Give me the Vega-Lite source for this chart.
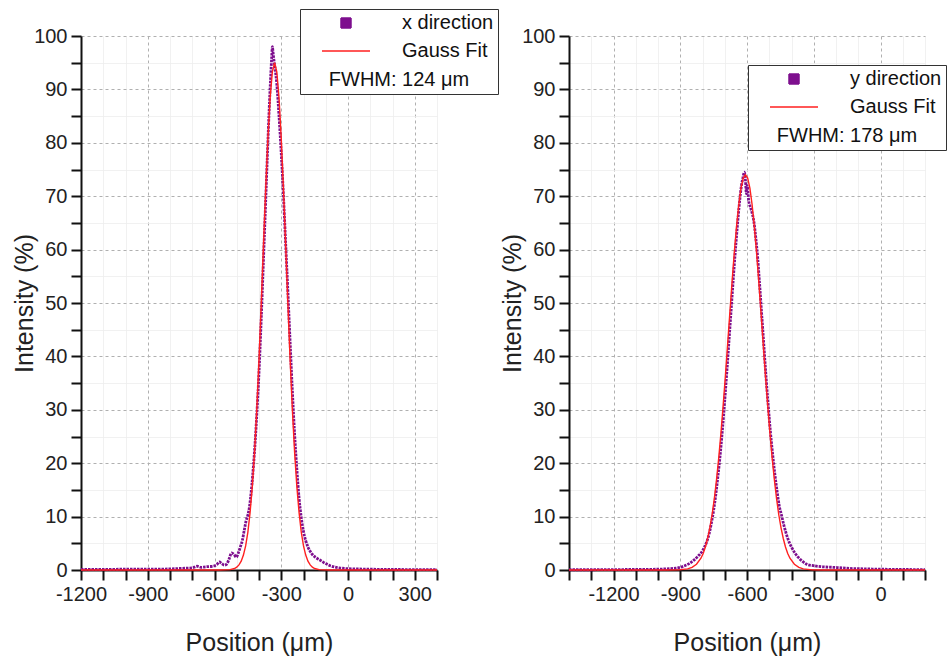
{
  "$schema": "https://vega.github.io/schema/vega-lite/v6.json",
  "background": "white",
  "padding": {"left": 12, "top": 8, "right": 0, "bottom": 5},
  "config": {
    "view": {"stroke": null},
    "font": "Liberation Sans",
    "axis": {
      "domainColor": "#111", "domainWidth": 2, "tickColor": "#111", "tickWidth": 2, "ticks": true, "tickSize": 10,
      "labelFont": "Liberation Sans", "labelFontSize": 20, "labelColor": "#222", "labelPadding": 4,
      "labelOverlap": false, "labelFlush": false,
      "titleFont": "Liberation Sans", "titleFontSize": 25, "titleFontWeight": "normal", "titleColor": "#222",
      "grid": true, "gridWidth": 1
    },
    "legend": {
      "titleOrient": "bottom", "titleAnchor": "middle", "titleFontSize": 20, "titleFontWeight": "normal",
      "titleFont": "Liberation Sans", "titleColor": "#111", "titlePadding": 9,
      "labelFont": "Liberation Sans", "labelFontSize": 20, "labelColor": "#111",
      "labelOffset": 46, "symbolOffset": 32, "symbolSize": 100, "symbolStrokeWidth": 1.5,
      "rowPadding": 8, "padding": 4, "strokeColor": "#333", "fillColor": "white", "cornerRadius": 0
    }
  },
  "datasets": {
    "xdir": [
      {"p": -1200, "v": 0.1}, {"p": -1100, "v": 0.1}, {"p": -1000, "v": 0.15}, {"p": -900, "v": 0.15},
      {"p": -800, "v": 0.2}, {"p": -750, "v": 0.3}, {"p": -700, "v": 0.4}, {"p": -678, "v": 0.7},
      {"p": -660, "v": 0.5}, {"p": -640, "v": 0.6}, {"p": -610, "v": 0.7}, {"p": -590, "v": 1.0},
      {"p": -578, "v": 1.5}, {"p": -567, "v": 1.2}, {"p": -556, "v": 0.9}, {"p": -545, "v": 1.1},
      {"p": -535, "v": 2.0}, {"p": -523, "v": 3.2}, {"p": -512, "v": 2.9}, {"p": -502, "v": 2.4},
      {"p": -492, "v": 3.3}, {"p": -484, "v": 4.3}, {"p": -475, "v": 5.5}, {"p": -466, "v": 7.5},
      {"p": -458, "v": 9.2}, {"p": -450, "v": 10.3}, {"p": -444, "v": 11.5}, {"p": -438, "v": 13.5},
      {"p": -432, "v": 16}, {"p": -425, "v": 19.5}, {"p": -418, "v": 23.5}, {"p": -410, "v": 29},
      {"p": -400, "v": 37}, {"p": -390, "v": 47}, {"p": -380, "v": 58}, {"p": -370, "v": 69},
      {"p": -362, "v": 78}, {"p": -355, "v": 85.5}, {"p": -348, "v": 92}, {"p": -343, "v": 96},
      {"p": -340, "v": 98}, {"p": -337, "v": 97}, {"p": -333, "v": 95.5}, {"p": -328, "v": 94},
      {"p": -320, "v": 91}, {"p": -310, "v": 85}, {"p": -300, "v": 78}, {"p": -290, "v": 70},
      {"p": -280, "v": 61}, {"p": -270, "v": 52}, {"p": -260, "v": 42.5}, {"p": -250, "v": 33.5},
      {"p": -240, "v": 25.5}, {"p": -230, "v": 19}, {"p": -220, "v": 13.5}, {"p": -210, "v": 9.8},
      {"p": -200, "v": 7.2}, {"p": -190, "v": 5.5}, {"p": -180, "v": 4.3}, {"p": -170, "v": 3.5},
      {"p": -160, "v": 2.9}, {"p": -150, "v": 2.5}, {"p": -140, "v": 2.2}, {"p": -120, "v": 1.7},
      {"p": -100, "v": 1.2}, {"p": -80, "v": 0.8}, {"p": -60, "v": 0.55}, {"p": -40, "v": 0.4},
      {"p": 0, "v": 0.25}, {"p": 100, "v": 0.15}, {"p": 200, "v": 0.1}, {"p": 300, "v": 0.08}, {"p": 400, "v": 0.05}
    ],
    "xfit": [
      {"p": -1200, "v": 0}, {"p": -580, "v": 0}, {"p": -530, "v": 0.07}, {"p": -510, "v": 0.28},
      {"p": -500, "v": 0.52}, {"p": -490, "v": 0.95}, {"p": -480, "v": 1.65}, {"p": -470, "v": 2.8},
      {"p": -460, "v": 4.5}, {"p": -450, "v": 7.1}, {"p": -440, "v": 10.8}, {"p": -430, "v": 15.7},
      {"p": -420, "v": 22.1}, {"p": -410, "v": 30.0}, {"p": -400, "v": 39.3}, {"p": -390, "v": 49.7},
      {"p": -380, "v": 60.6}, {"p": -370, "v": 71.2}, {"p": -360, "v": 80.8}, {"p": -350, "v": 88.4},
      {"p": -340, "v": 93.3}, {"p": -330, "v": 95}, {"p": -320, "v": 93.3}, {"p": -310, "v": 88.4},
      {"p": -300, "v": 80.8}, {"p": -290, "v": 71.2}, {"p": -280, "v": 60.6}, {"p": -270, "v": 49.7},
      {"p": -260, "v": 39.3}, {"p": -250, "v": 30.0}, {"p": -240, "v": 22.1}, {"p": -230, "v": 15.7},
      {"p": -220, "v": 10.8}, {"p": -210, "v": 7.1}, {"p": -200, "v": 4.5}, {"p": -190, "v": 2.8},
      {"p": -180, "v": 1.65}, {"p": -170, "v": 0.95}, {"p": -160, "v": 0.52}, {"p": -150, "v": 0.28},
      {"p": -130, "v": 0.07}, {"p": -80, "v": 0}, {"p": 400, "v": 0}
    ],
    "ydir": [
      {"p": -1400, "v": 0.05}, {"p": -1300, "v": 0.05}, {"p": -1200, "v": 0.08}, {"p": -1100, "v": 0.1},
      {"p": -1000, "v": 0.15}, {"p": -950, "v": 0.25}, {"p": -920, "v": 0.35}, {"p": -900, "v": 0.5},
      {"p": -880, "v": 0.8}, {"p": -860, "v": 1.2}, {"p": -840, "v": 1.8}, {"p": -820, "v": 2.6},
      {"p": -800, "v": 3.6}, {"p": -790, "v": 4.4}, {"p": -780, "v": 5.4}, {"p": -770, "v": 6.8},
      {"p": -760, "v": 8.8}, {"p": -750, "v": 11.2}, {"p": -740, "v": 14.2}, {"p": -730, "v": 17.8},
      {"p": -720, "v": 21.8}, {"p": -710, "v": 26.5}, {"p": -700, "v": 31.8}, {"p": -690, "v": 37.5},
      {"p": -680, "v": 43.5}, {"p": -670, "v": 49.5}, {"p": -660, "v": 55.5}, {"p": -650, "v": 61},
      {"p": -640, "v": 66}, {"p": -632, "v": 69.5}, {"p": -625, "v": 72}, {"p": -618, "v": 73.5},
      {"p": -612, "v": 74.5}, {"p": -607, "v": 73}, {"p": -603, "v": 70.5}, {"p": -600, "v": 72},
      {"p": -596, "v": 71}, {"p": -592, "v": 69}, {"p": -585, "v": 68}, {"p": -578, "v": 67},
      {"p": -570, "v": 65.5}, {"p": -560, "v": 62}, {"p": -552, "v": 58.5}, {"p": -545, "v": 54.5},
      {"p": -535, "v": 48.5}, {"p": -525, "v": 42.5}, {"p": -515, "v": 36.5}, {"p": -505, "v": 31},
      {"p": -495, "v": 26}, {"p": -485, "v": 21.8}, {"p": -475, "v": 18}, {"p": -465, "v": 14.8},
      {"p": -455, "v": 12}, {"p": -445, "v": 10.3}, {"p": -435, "v": 8.5}, {"p": -425, "v": 7},
      {"p": -415, "v": 5.7}, {"p": -400, "v": 4.3}, {"p": -385, "v": 3.2}, {"p": -370, "v": 2.4},
      {"p": -350, "v": 1.6}, {"p": -330, "v": 1.05}, {"p": -300, "v": 0.8}, {"p": -260, "v": 0.6},
      {"p": -213, "v": 0.5}, {"p": -170, "v": 0.4}, {"p": -140, "v": 0.3}, {"p": -100, "v": 0.25},
      {"p": 0, "v": 0.15}, {"p": 100, "v": 0.1}, {"p": 200, "v": 0.08}
    ],
    "yfit": [
      {"p": -1400, "v": 0}, {"p": -957, "v": 0}, {"p": -907, "v": 0.03}, {"p": -867, "v": 0.2},
      {"p": -847, "v": 0.48}, {"p": -827, "v": 1.07}, {"p": -807, "v": 2.2}, {"p": -797, "v": 3.1},
      {"p": -787, "v": 4.3}, {"p": -777, "v": 5.9}, {"p": -767, "v": 7.9}, {"p": -757, "v": 10.3},
      {"p": -747, "v": 13.3}, {"p": -737, "v": 16.9}, {"p": -727, "v": 21.0}, {"p": -717, "v": 25.7},
      {"p": -707, "v": 30.9}, {"p": -697, "v": 36.4}, {"p": -687, "v": 42.3}, {"p": -677, "v": 48.2},
      {"p": -667, "v": 54.0}, {"p": -657, "v": 59.5}, {"p": -647, "v": 64.3}, {"p": -637, "v": 68.4},
      {"p": -627, "v": 71.5}, {"p": -617, "v": 73.4}, {"p": -607, "v": 74}, {"p": -597, "v": 73.4},
      {"p": -587, "v": 71.5}, {"p": -577, "v": 68.4}, {"p": -567, "v": 64.3}, {"p": -557, "v": 59.5},
      {"p": -547, "v": 54.0}, {"p": -537, "v": 48.2}, {"p": -527, "v": 42.3}, {"p": -517, "v": 36.4},
      {"p": -507, "v": 30.9}, {"p": -497, "v": 25.7}, {"p": -487, "v": 21.0}, {"p": -477, "v": 16.9},
      {"p": -467, "v": 13.3}, {"p": -457, "v": 10.3}, {"p": -447, "v": 7.9}, {"p": -437, "v": 5.9},
      {"p": -427, "v": 4.3}, {"p": -417, "v": 3.1}, {"p": -407, "v": 2.2}, {"p": -387, "v": 1.07},
      {"p": -367, "v": 0.48}, {"p": -347, "v": 0.2}, {"p": -307, "v": 0.03}, {"p": -257, "v": 0},
      {"p": 200, "v": 0}
    ]
  },
  "spacing": 132,
  "bounds": "flush",
  "resolve": {"scale": {"color": "independent", "x": "independent"}, "legend": {"color": "independent"}},
  "hconcat": [
    {
      "width": 356, "height": 534,
      "encoding": {
        "x": {"field": "p", "type": "quantitative", "title": "Position (μm)",
          "scale": {"domain": [-1200, 400], "nice": false, "zero": false},
          "axis": {
            "values": [-1200, -1100, -1000, -900, -800, -700, -600, -500, -400, -300, -200, -100, 0, 100, 200, 300, 400],
            "labelExpr": "datum.value % 300 === 0 ? (datum.value < 0 ? '-' + abs(datum.value) : '' + datum.value) : ''",
            "labelOverlap": false, "ticks": true,
            "gridDash": {"condition": {"test": "datum.value % 300 === 0", "value": [3, 3]}, "value": [1, 0]},
            "gridColor": {"condition": {"test": "datum.value % 300 === 0", "value": "#b0b0b0"}, "value": "#ededed"},
            "titlePadding": 26,
            "encode": {"ticks": {"update": {"y2": {"signal": "datum.value % 300 === 0 ? 10 : 5"}}}}
          }},
        "y": {"field": "v", "type": "quantitative", "title": "Intensity (%)",
          "scale": {"domain": [0, 100], "nice": false},
          "axis": {
            "values": [0, 5, 10, 15, 20, 25, 30, 35, 40, 45, 50, 55, 60, 65, 70, 75, 80, 85, 90, 95, 100],
            "labelExpr": "datum.value % 10 === 0 ? datum.label : ''",
            "labelOverlap": false, "ticks": true,
            "gridDash": {"condition": {"test": "datum.value % 10 === 0", "value": [3, 3]}, "value": [1, 0]},
            "gridColor": {"condition": {"test": "datum.value % 10 === 0", "value": "#b0b0b0"}, "value": "#ededed"},
            "titlePadding": -4,
            "encode": {"ticks": {"update": {"x2": {"signal": "datum.value % 10 === 0 ? -10 : -5"}}}}
          }}
      },
      "layer": [
        {
          "data": {"name": "xdir"},
          "mark": {"type": "line", "strokeWidth": 2.8, "strokeDash": [2.5, 1], "interpolate": "monotone"},
          "encoding": {
            "color": {"datum": "x direction",
              "scale": {"domain": ["x direction", "Gauss Fit"], "range": ["#7e0f8e", "#ff2020"]},
              "legend": {
                "orient": "none", "legendX": 219, "legendY": -27, "title": "FWHM: 124 μm",
                "encode": {"symbols": {"update": {
                  "shape": {"signal": "datum.value === 'Gauss Fit' ? 'M-4.8,0H4.8' : 'M-1,-1H1V1H-1Z'"},
                  "fill": {"signal": "datum.value === 'Gauss Fit' ? 'transparent' : '#7e0f8e'"},
                  "stroke": {"signal": "datum.value === 'Gauss Fit' ? '#ff2020' : '#7e0f8e'"},
                  "strokeDash": {"value": [1, 0]}
                }}}
              }}
          }
        },
        {
          "data": {"name": "xfit"},
          "mark": {"type": "line", "strokeWidth": 1.4},
          "encoding": {"color": {"datum": "Gauss Fit"}}
        }
      ]
    },
    {
      "width": 356, "height": 534,
      "encoding": {
        "x": {"field": "p", "type": "quantitative", "title": "Position (μm)",
          "scale": {"domain": [-1400, 200], "nice": false, "zero": false},
          "axis": {
            "values": [-1400, -1300, -1200, -1100, -1000, -900, -800, -700, -600, -500, -400, -300, -200, -100, 0, 100, 200],
            "labelExpr": "datum.value % 300 === 0 ? (datum.value < 0 ? '-' + abs(datum.value) : '' + datum.value) : ''",
            "labelOverlap": false, "ticks": true,
            "gridDash": {"condition": {"test": "datum.value % 300 === 0", "value": [3, 3]}, "value": [1, 0]},
            "gridColor": {"condition": {"test": "datum.value % 300 === 0", "value": "#b0b0b0"}, "value": "#ededed"},
            "titlePadding": 26,
            "encode": {"ticks": {"update": {"y2": {"signal": "datum.value % 300 === 0 ? 10 : 5"}}}}
          }},
        "y": {"field": "v", "type": "quantitative", "title": "Intensity (%)",
          "scale": {"domain": [0, 100], "nice": false},
          "axis": {
            "values": [0, 5, 10, 15, 20, 25, 30, 35, 40, 45, 50, 55, 60, 65, 70, 75, 80, 85, 90, 95, 100],
            "labelExpr": "datum.value % 10 === 0 ? datum.label : ''",
            "labelOverlap": false, "ticks": true,
            "gridDash": {"condition": {"test": "datum.value % 10 === 0", "value": [3, 3]}, "value": [1, 0]},
            "gridColor": {"condition": {"test": "datum.value % 10 === 0", "value": "#b0b0b0"}, "value": "#ededed"},
            "titlePadding": -4,
            "encode": {"ticks": {"update": {"x2": {"signal": "datum.value % 10 === 0 ? -10 : -5"}}}}
          }}
      },
      "layer": [
        {
          "data": {"name": "ydir"},
          "mark": {"type": "line", "strokeWidth": 2.8, "strokeDash": [2.5, 1], "interpolate": "monotone"},
          "encoding": {
            "color": {"datum": "y direction",
              "scale": {"domain": ["y direction", "Gauss Fit"], "range": ["#7e0f8e", "#ff2020"]},
              "legend": {
                "orient": "none", "legendX": 179, "legendY": 29, "title": "FWHM: 178 μm",
                "encode": {"symbols": {"update": {
                  "shape": {"signal": "datum.value === 'Gauss Fit' ? 'M-4.8,0H4.8' : 'M-1,-1H1V1H-1Z'"},
                  "fill": {"signal": "datum.value === 'Gauss Fit' ? 'transparent' : '#7e0f8e'"},
                  "stroke": {"signal": "datum.value === 'Gauss Fit' ? '#ff2020' : '#7e0f8e'"},
                  "strokeDash": {"value": [1, 0]}
                }}}
              }}
          }
        },
        {
          "data": {"name": "yfit"},
          "mark": {"type": "line", "strokeWidth": 1.4},
          "encoding": {"color": {"datum": "Gauss Fit"}}
        }
      ]
    }
  ]
}
